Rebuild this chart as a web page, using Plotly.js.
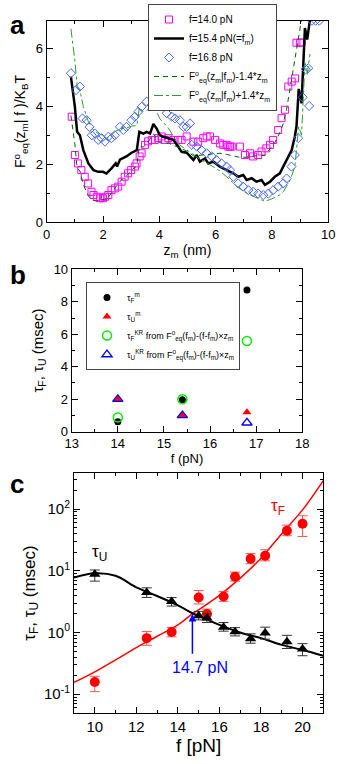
<!DOCTYPE html>
<html>
<head>
<meta charset="utf-8">
<script src="https://cdn.plot.ly/plotly-3.0.1.min.js"></script>
<style>
  html, body { margin: 0; padding: 0; background: #fff; }
  #fig { width: 346px; height: 764px; }
</style>
</head>
<body>
<div id="fig"></div>
<script>
// ---- panel a: free energy profiles ----
const zBlack = [0.86,1.0,1.08,1.18,1.3,1.48,1.66,1.83,2.0,2.12,2.3,2.45,2.5,2.6,2.83,3.0,3.2,3.29,3.43,3.55,3.67,3.79,3.9,4.02,4.14,4.32,4.5,4.67,4.79,4.97,5.09,5.21,5.33,5.44,5.62,5.74,5.92,6.15,6.39,6.63,6.8,6.98,7.1,7.28,7.45,7.63,7.75,7.93,8.1,8.28,8.4,8.52,8.7,8.81,8.87,8.95,9.05,9.1,9.17,9.25,9.35];
const fBlack = [5.02,3.99,3.12,3.0,2.49,2.03,1.8,1.74,1.74,1.68,1.86,2.03,1.92,2.16,2.27,2.39,2.49,3.12,3.06,3.12,3.06,3.39,3.24,3.0,2.95,2.89,2.84,2.61,2.43,2.4,2.27,2.15,2.32,2.09,2.2,2.03,2.09,1.92,1.8,1.69,1.57,1.63,1.46,1.52,1.4,1.46,1.29,1.4,1.57,1.69,1.92,2.15,2.49,2.95,3.3,4.6,4.1,5.2,6.7,6.3,7.0];

const z140 = [0.89,1.0,1.11,1.23,1.35,1.47,1.59,1.66,1.78,1.9,2.0,2.07,2.19,2.3,2.42,2.54,2.66,2.77,2.89,3.0,3.13,3.19,3.3,3.37,3.49,3.6,3.73,3.84,3.96,4.08,4.2,4.32,4.5,4.67,4.79,4.97,5.21,5.38,5.56,5.68,5.8,5.98,6.15,6.27,6.39,6.45,6.51,6.57,6.86,7.04,7.22,7.33,7.51,7.63,7.8,7.93,8.04,8.22,8.34,8.46,8.58,8.7,8.82,8.87,8.99,9.05];
const f140 = [3.64,2.32,2.03,1.8,1.57,1.34,1.05,0.94,0.88,0.83,0.83,0.88,0.94,1.11,1.17,1.23,1.4,1.57,1.69,1.8,1.92,2.03,2.27,2.38,2.67,2.79,2.84,2.84,2.9,2.96,2.84,2.9,2.84,2.84,2.84,2.96,2.78,2.78,2.9,2.96,2.96,2.84,2.72,2.67,2.67,2.61,2.61,2.61,2.61,2.32,2.38,2.27,2.32,2.44,2.55,2.67,2.84,3.18,3.59,3.88,4.68,4.85,4.96,6.19,6.19,6.2];

const z168 = [0.86,1.04,1.18,1.27,1.42,1.52,1.6,1.72,1.83,1.95,2.07,2.19,2.3,2.42,2.6,2.72,2.83,3.01,3.13,3.25,3.37,3.55,3.73,3.84,3.96,4.14,4.26,4.44,4.56,4.73,4.85,4.97,5.09,5.15,5.33,5.5,5.68,5.86,6.03,6.21,6.39,6.51,6.63,6.8,6.98,7.16,7.33,7.51,7.69,7.87,8.04,8.22,8.4,8.52,8.69,8.81,8.93,9.09,9.2,9.29,9.32,9.42,9.55,9.68];
const f168 = [5.14,4.56,4.68,3.58,3.52,3.29,3.0,3.06,2.84,2.9,2.78,2.95,2.9,3.0,3.29,3.18,3.29,3.52,3.64,3.81,3.98,4.16,4.04,4.27,4.33,4.1,3.76,3.64,3.58,3.52,3.29,3.29,3.41,2.67,2.61,2.49,2.38,2.27,2.15,2.03,1.92,1.8,1.57,1.34,1.23,1.11,1.05,0.99,0.94,0.99,1.11,1.23,1.34,1.51,1.92,2.32,2.9,4.31,5.28,5.31,4.01,6.95,6.95,6.95];

const zTilt = [0.86,1.0,1.08,1.18,1.3,1.48,1.66,1.83,2.0,2.12,2.3,2.45,2.6,2.83,3.0,3.2,3.29,3.43,3.55,3.79,4.02,4.32,4.67,4.97,5.21,5.44,5.74,6.15,6.39,6.8,7.1,7.45,7.75,8.1,8.28,8.4,8.52,8.64,8.81,8.95,9.05,9.17,9.25,9.35];
const fTiltMinus = [3.68,2.70,1.86,1.77,1.30,0.90,0.75,0.73,0.79,0.77,1.01,1.23,1.41,1.6,1.78,1.95,2.61,2.6,2.7,3.05,2.74,2.73,2.57,2.46,2.29,2.31,2.35,2.38,2.34,2.25,2.24,2.3,2.3,2.75,3.1,3.4,3.9,4.6,5.5,6.4,7.0,7.3,7.4,7.5];
const fTiltPlus = [6.67,5.59,4.69,4.54,3.99,3.47,3.18,3.06,3.0,2.9,3.02,3.14,3.22,3.25,3.31,3.34,3.94,3.83,3.85,4.04,3.57,3.25,2.7,2.5,2.32,2.18,2.02,1.77,1.57,1.2,1.0,0.85,0.72,0.85,0.95,1.05,1.25,1.45,1.9,3.3,3.0,5.5,5.1,5.8];

// ---- panel b: times at three forces ----
const forceB = [14.0, 15.4, 16.8];
const tauFm = [0.62, 1.97, 8.73];
const tauUm = [2.0, 0.99, 1.19];
const tauFKR = [0.88, 2.0, 5.58];
const tauUKR = [2.0, 1.0, 0.55];

// ---- panel c: tau vs force ----
const forceC = [10, 12.5, 13.7, 15, 15.4, 16.2, 16.75, 17.5, 18.2, 19.25, 20];
const tauF = [0.158, 0.81, 1.02, 3.7, 1.99, 3.83, 8.0, 15.7, 17.5, 44.5, 58];
const tauFPlus = [0.037, 0.23, 0.18, 1.1, 0.4, 0.77, 1.5, 3.3, 4.5, 10.5, 20];
const tauFMinus = [0.048, 0.19, 0.17, 0.8, 0.4, 0.63, 1.2, 2.7, 3.0, 7.5, 22];
const tauU = [8.8, 4.45, 3.18, 1.86, 1.71, 1.22, 1.03, 0.79, 0.98, 0.71, 0.54];
const tauUPlus = [1.5, 0.85, 0.5, 0.34, 0.3, 0.23, 0.17, 0.16, 0.24, 0.19, 0.12];
const tauUMinus = [2.0, 0.75, 0.5, 0.26, 0.26, 0.17, 0.15, 0.12, 0.2, 0.16, 0.12];
const fitForce = [9, 10, 11, 12, 13, 14, 14.7, 15, 16, 17, 18, 19, 20, 21];
const fitTauF = [0.155, 0.23, 0.36, 0.57, 0.87, 1.33, 2.0, 2.33, 4.0, 7.6, 16, 40, 97, 290];
const fitTauU = [7.8, 9.1, 8.3, 5.4, 3.9, 2.75, 2.05, 1.85, 1.33, 1.0, 0.81, 0.63, 0.52, 0.42];

const W = 346, H = 764;
const px = v => v / W;
const py = v => 1 - v / H;

const FONT = 'Liberation Sans, Arial, sans-serif';

const data = [
  // a
  { x: z140, y: f140, name: 'f=14.0 pN', type: 'scatter', mode: 'markers',
    marker: { symbol: 'square-open', size: 7, color: '#ff00ff', line: { width: 1 } },
    xaxis: 'x', yaxis: 'y', legend: 'legend' },
  { x: zBlack, y: fBlack, name: 'f=15.4 pN(=f<sub>m</sub>)', type: 'scatter', mode: 'lines',
    line: { color: 'black', width: 2.5 }, xaxis: 'x', yaxis: 'y', legend: 'legend' },
  { x: z168, y: f168, name: 'f=16.8 pN', type: 'scatter', mode: 'markers',
    marker: { symbol: 'diamond-open', size: 7, color: '#4466ff', line: { width: 1 } },
    xaxis: 'x', yaxis: 'y', legend: 'legend' },
  { x: zTilt, y: fTiltMinus, name: 'F<sup>o</sup><sub>eq</sub>(z<sub>m</sub>|f<sub>m</sub>)-1.4*z<sub>m</sub>',
    type: 'scatter', mode: 'lines', line: { color: '#006400', width: 1, dash: '5px,4px' },
    xaxis: 'x', yaxis: 'y', legend: 'legend' },
  { x: zTilt, y: fTiltPlus, name: 'F<sup>o</sup><sub>eq</sub>(z<sub>m</sub>|f<sub>m</sub>)+1.4*z<sub>m</sub>',
    type: 'scatter', mode: 'lines', line: { color: '#2e9a2e', width: 1, dash: 'dashdot' },
    xaxis: 'x', yaxis: 'y', legend: 'legend' },
  // b
  { x: forceB, y: tauFm, name: 'τ<sub>F</sub><sup>m</sup>', type: 'scatter', mode: 'markers',
    marker: { symbol: 'circle', size: 7, color: 'black' }, xaxis: 'x2', yaxis: 'y2', legend: 'legend2' },
  { x: forceB, y: tauUm, name: 'τ<sub>U</sub><sup>m</sup>', type: 'scatter', mode: 'markers',
    marker: { symbol: 'triangle-up', size: 8, color: 'red' }, xaxis: 'x2', yaxis: 'y2', legend: 'legend2' },
  { x: forceB, y: tauFKR, name: 'τ<sub>F</sub><sup>KR</sup> from F<sup>o</sup><sub>eq</sub>(f<sub>m</sub>)-(f-f<sub>m</sub>)×z<sub>m</sub>',
    type: 'scatter', mode: 'markers',
    marker: { symbol: 'circle-open', size: 9, color: '#00ee00', line: { width: 1.5 } },
    xaxis: 'x2', yaxis: 'y2', legend: 'legend2' },
  { x: forceB, y: tauUKR, name: 'τ<sub>U</sub><sup>KR</sup> from F<sup>o</sup><sub>eq</sub>(f<sub>m</sub>)-(f-f<sub>m</sub>)×z<sub>m</sub>',
    type: 'scatter', mode: 'markers',
    marker: { symbol: 'triangle-up-open', size: 9, color: 'blue', line: { width: 1.3 } },
    xaxis: 'x2', yaxis: 'y2', legend: 'legend2' },
  // c
  { x: fitForce, y: fitTauF, type: 'scatter', mode: 'lines', line: { color: 'red', width: 1.5, shape: 'spline' },
    showlegend: false, xaxis: 'x3', yaxis: 'y3' },
  { x: fitForce, y: fitTauU, type: 'scatter', mode: 'lines', line: { color: 'black', width: 2, shape: 'spline' },
    showlegend: false, xaxis: 'x3', yaxis: 'y3' },
  { x: forceC, y: tauF, type: 'scatter', mode: 'markers',
    marker: { symbol: 'circle', size: 10, color: 'red' },
    error_y: { type: 'data', symmetric: false, array: tauFPlus, arrayminus: tauFMinus, color: '#ff5555', thickness: 1, width: 5 },
    showlegend: false, xaxis: 'x3', yaxis: 'y3' },
  { x: forceC, y: tauU, type: 'scatter', mode: 'markers',
    marker: { symbol: 'triangle-up', size: 10, color: 'black' },
    error_y: { type: 'data', symmetric: false, array: tauUPlus, arrayminus: tauUMinus, color: '#333', thickness: 1, width: 5 },
    showlegend: false, xaxis: 'x3', yaxis: 'y3' }
];

function frame(extra) {
  return Object.assign({
    showline: true, linecolor: 'black', linewidth: 1, mirror: 'allticks',
    ticks: 'inside', ticklen: 6, tickcolor: 'black', showgrid: false, zeroline: false,
    tickfont: { family: FONT, size: 13, color: 'black' }
  }, extra);
}

const layout = {
  width: W, height: H,
  margin: { l: 0, r: 0, t: 0, b: 0 },
  paper_bgcolor: 'white', plot_bgcolor: 'white',
  font: { family: FONT, color: 'black' },
  xaxis: frame({ domain: [px(46.7), px(328.3)], range: [0, 10], dtick: 2,
    minor: { ticks: 'inside', ticklen: 3, dtick: 1 }, anchor: 'y',
    title: { text: 'z<sub>m</sub> (nm)', font: { size: 14 }, standoff: 4 } }),
  yaxis: frame({ domain: [py(222.3), py(20.7)], range: [0, 6.95], dtick: 2,
    minor: { ticks: 'inside', ticklen: 3, dtick: 1 }, anchor: 'x',
    title: { text: 'F<sup>o</sup><sub>eq</sub>(z<sub>m</sub>| f )/K<sub>B</sub>T', font: { size: 14 }, standoff: 6 } }),
  xaxis2: frame({ domain: [px(71.7), px(302.3)], range: [13, 18], dtick: 1,
    minor: { ticks: 'inside', ticklen: 3, dtick: 0.5 }, anchor: 'y2',
    title: { text: 'f (pN)', font: { size: 13 }, standoff: 0 } }),
  yaxis2: frame({ domain: [py(431.7), py(269.3)], range: [0, 10], dtick: 2,
    minor: { ticks: 'inside', ticklen: 3, dtick: 1 }, anchor: 'x2',
    title: { text: 'τ<sub>F</sub>, τ<sub>U</sub> (msec)', font: { size: 15 }, standoff: 6 } }),
  xaxis3: frame({ domain: [px(74), px(323.3)], range: [9, 21], dtick: 2, tick0: 10,
    minor: { ticks: 'inside', ticklen: 3, dtick: 1 }, anchor: 'y3',
    tickfont: { family: FONT, size: 15, color: 'black' },
    title: { text: 'f [pN]', font: { size: 19 }, standoff: 4 } }),
  yaxis3: frame({ domain: [py(712.7), py(473.3)], type: 'log', range: [-1.30, 2.58],
    tickvals: [0.1, 1, 10, 100], ticktext: ['10<sup>-1</sup>', '10<sup>0</sup>', '10<sup>1</sup>', '10<sup>2</sup>'],
    minor: { ticks: 'inside', ticklen: 3, dtick: 'D1' }, anchor: 'x3',
    tickfont: { family: FONT, size: 15, color: 'black' },
    title: { text: 'τ<sub>F</sub>, τ<sub>U</sub> (msec)', font: { size: 17 }, standoff: 4 } }),
  legend: {
    x: px(148), y: py(4), xanchor: 'left', yanchor: 'top',
    bgcolor: 'white', bordercolor: '#444', borderwidth: 1,
    font: { family: FONT, size: 10 }, tracegroupgap: 0, itemwidth: 30
  },
  legend2: {
    x: px(86), y: py(282), xanchor: 'left', yanchor: 'top',
    bgcolor: 'rgba(255,255,255,0)', bordercolor: '#444', borderwidth: 1,
    font: { family: FONT, size: 9 }, tracegroupgap: 0, itemwidth: 30
  },
  annotations: [
    { text: '<b>a</b>', xref: 'paper', yref: 'paper', x: px(8), y: py(8), xanchor: 'left', yanchor: 'top',
      showarrow: false, font: { family: FONT, size: 26 } },
    { text: '<b>b</b>', xref: 'paper', yref: 'paper', x: px(8), y: py(258), xanchor: 'left', yanchor: 'top',
      showarrow: false, font: { family: FONT, size: 26 } },
    { text: '<b>c</b>', xref: 'paper', yref: 'paper', x: px(8), y: py(467), xanchor: 'left', yanchor: 'top',
      showarrow: false, font: { family: FONT, size: 26 } },
    { text: 'τ<sub>U</sub>', xref: 'x3', yref: 'y3', x: 10.25, y: 1.29, showarrow: false,
      font: { family: FONT, size: 17, color: 'black' } },
    { text: 'τ<sub>F</sub>', xref: 'x3', yref: 'y3', x: 18.8, y: 2.04, showarrow: false,
      font: { family: FONT, size: 17, color: 'red' } },
    { text: '14.7 pN', xref: 'x3', yref: 'y3', x: 15.05, y: -0.57, showarrow: false,
      font: { family: FONT, size: 16, color: 'blue' } },
    { text: '', xref: 'x3', yref: 'y3', x: 14.7, y: 0.30, axref: 'x3', ayref: 'y3', ax: 14.7, ay: -0.37,
      showarrow: true, arrowhead: 2, arrowsize: 1, arrowwidth: 1.5, arrowcolor: 'blue' }
  ],
  showlegend: true
};

Plotly.newPlot('fig', data, layout, { displayModeBar: false, staticPlot: true });
</script>
</body>
</html>
